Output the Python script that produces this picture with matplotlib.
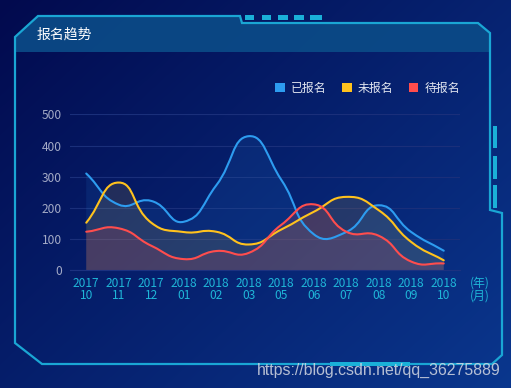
import numpy as np
import matplotlib
matplotlib.use("Agg")
import matplotlib.pyplot as plt
from matplotlib.path import Path
from matplotlib.patches import PathPatch, Polygon, Rectangle, Patch

plt.rcParams['font.family'] = ['Noto Sans CJK SC', 'DejaVu Sans']

# data
months = ['2017\n10', '2017\n11', '2017\n12', '2018\n01', '2018\n02', '2018\n03',
          '2018\n05', '2018\n06', '2018\n07', '2018\n08', '2018\n09', '2018\n10']
signed = [310, 210, 222, 155, 272, 430, 290, 115, 122, 208, 122, 62]      # 已报名
unsigned = [152, 281, 152, 122, 123, 82, 130, 187, 235, 192, 90, 31]      # 未报名
pending = [123, 134, 78, 35, 61, 55, 145, 211, 123, 110, 27, 21]          # 待报名
series_names = ['已报名', '未报名', '待报名']
colors = ['#2d9cf0', '#ffc21d', '#ff4d4d']
fill_alpha = [0.10, 0.12, 0.15]

W, H = 511, 388
SX, SY = 32.5, 0.312   # px per category / per unit, used for smoothing


def smooth_path(xs, ys, k=0.5, close=False):
    xs = np.asarray(xs, float)
    ys = np.asarray(ys, float)
    px, py = xs * SX, ys * SY
    n = len(xs)
    cin, cout = [], []
    for i in range(n):
        a, b = max(i - 1, 0), min(i + 1, n - 1)
        vx, vy = px[b] - px[a], py[b] - py[a]
        d0 = np.hypot(px[i] - px[a], py[i] - py[a])
        d1 = np.hypot(px[b] - px[i], py[b] - py[i])
        r = d1 / (d0 + d1) if d0 + d1 > 0 else 0.5
        cin.append(((px[i] - vx * k * (1 - r)) / SX, (py[i] - vy * k * (1 - r)) / SY))
        cout.append(((px[i] + vx * k * r) / SX, (py[i] + vy * k * r) / SY))
    verts = [(xs[0], ys[0])]
    codes = [Path.MOVETO]
    for i in range(n - 1):
        verts += [cout[i], cin[i + 1], (xs[i + 1], ys[i + 1])]
        codes += [Path.CURVE4] * 3
    if close:
        verts += [(xs[-1], 0), (xs[0], 0), (xs[0], ys[0])]
        codes += [Path.LINETO, Path.LINETO, Path.CLOSEPOLY]
    return Path(verts, codes)


fig = plt.figure(figsize=(W / 100, H / 100), dpi=100)

# background + frame, drawn in pixel coords
bg = fig.add_axes([0, 0, 1, 1], zorder=0)
yy, xx = np.mgrid[0:H, 0:W]
t = (0.55 * xx / W + 0.45 * yy / H)[..., None]
c0 = np.array([2, 10, 78]) / 255
c1 = np.array([10, 55, 142]) / 255
bg.imshow(c0 + (c1 - c0) * t, extent=(0, W, H, 0), aspect='auto')
bg.set_xlim(0, W)
bg.set_ylim(H, 0)
bg.axis('off')

header = [(15, 52), (15, 37), (38, 16), (240, 16), (242, 23), (478, 23), (490, 33), (490, 52)]
bg.add_patch(Polygon(header, closed=True, fc='#0b4c88', ec='none', alpha=0.9))
frame = [(15, 343), (15, 37), (38, 16), (240, 16), (242, 23), (478, 23), (490, 33),
         (490, 210), (502, 213), (502, 355), (492, 364), (42, 364)]
bg.add_patch(Polygon(frame, closed=True, fill=False, ec='#1aa6d4', lw=1.6))

deco = '#1ab0d8'
for x0, x1 in [(245, 254), (262, 271), (278, 288), (294, 304), (310, 322)]:
    bg.add_patch(Rectangle((x0, 15), x1 - x0, 5, fc=deco, ec='none'))
for y0, y1 in [(126, 148), (156, 179), (185, 208)]:
    bg.add_patch(Rectangle((493, y0), 4, y1 - y0, fc=deco, ec='none'))
bg.add_patch(Rectangle((330, 362), 80, 4, fc=deco, ec='none'))

bg.text(37, 35, '报名趋势', color='white', fontsize=10, va='center', ha='left')
bg.text(501, 370, 'https://blog.csdn.net/qq_36275889', color='#d4d8e2', alpha=0.85,
        fontsize=11.4, family=['Liberation Sans'], ha='right', va='center')

# chart
ax = fig.add_axes([70 / W, (H - 270) / H, 390 / W, (270 - 114.4) / H], zorder=1)
ax.patch.set_alpha(0)
x = np.arange(len(months))
data = [signed, unsigned, pending]
for vals, c, a in zip(data, colors, fill_alpha):
    ax.add_patch(PathPatch(smooth_path(x, vals, close=True), fc=c, ec='none', alpha=a))
for vals, c in zip(data, colors):
    ax.add_patch(PathPatch(smooth_path(x, vals), fill=False, ec=c, lw=1.5, capstyle='round'))

ax.set_xlim(-0.5, len(months) - 0.5)
ax.set_ylim(0, 500)
ax.set_yticks([0, 100, 200, 300, 400, 500])
ax.set_xticks(x)
ax.set_xticklabels(months, linespacing=0.95)
ax.tick_params(axis='x', length=0, pad=5, labelcolor='#1fb6d8', labelsize=8.6)
ax.tick_params(axis='y', length=0, pad=6, labelcolor='#a3aac6', labelsize=8.6)
ax.grid(axis='y', color='#1a2f7a', lw=0.8)
ax.set_axisbelow(True)
for s in ['top', 'right', 'left']:
    ax.spines[s].set_visible(False)
ax.spines['bottom'].set_color('#1c3280')
ax.annotate('(年)\n(月)', xy=(1, 0), xycoords='axes fraction', xytext=(14, -5),
            textcoords='offset points', color='#1fb6d8', fontsize=8.6,
            ha='center', va='top', linespacing=0.95)

handles = [Patch(fc=c, ec='none') for c in colors]
fig.legend(handles, series_names, loc='center right', bbox_to_anchor=(460 / W, 1 - 88 / H),
           ncol=3, frameon=False, fontsize=8.6, labelcolor='#e2e6f0', handlelength=0.8,
           handleheight=0.8, handletextpad=0.5, columnspacing=1.3, borderpad=0,
           borderaxespad=0)

fig.savefig('out.png', dpi=100)
